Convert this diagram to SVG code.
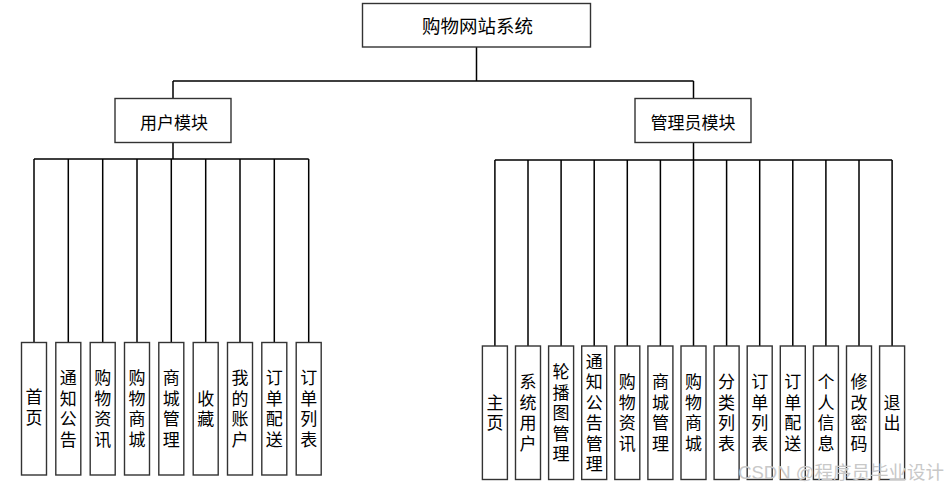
<svg xmlns="http://www.w3.org/2000/svg" width="946" height="486" viewBox="0 0 946 486">
<defs>
<style>
.box{fill:#fff;stroke:#333;stroke-width:1.4}
.ln{fill:none;stroke:#000;stroke-width:1.5}
text{font-family:"Noto Sans CJK SC","Noto Sans",sans-serif;fill:#000}
.t1{font-size:18.5px;text-anchor:middle;dominant-baseline:central}
.t2{font-size:17px;text-anchor:middle;dominant-baseline:central}
.lf{font-size:17px;text-anchor:middle;writing-mode:vertical-rl;letter-spacing:3.5px}
.wm{font-size:18.5px;fill:#c8c8c8;text-anchor:end;dominant-baseline:central;font-family:"Liberation Sans","Noto Sans CJK SC",sans-serif}
</style>
</defs>
<rect width="946" height="486" fill="#fff"/>
<g id="connectors">
<path class="ln" d="M476.5 47V81M173 81H693.5M173 81V98M693.5 81V98"/>
<path class="ln" d="M173 142.5V159M34 159H308.7M34 159V342.5M68.3 159V342.5M102.7 159V342.5M137 159V342.5M171.3 159V342.5M205.7 159V342.5M240 159V342.5M274.3 159V342.5M308.7 159V342.5"/>
<path class="ln" d="M693.5 142.5V160M494.9 160H892.1M494.9 160V346M528 160V346M561.1 160V346M594.2 160V346M627.3 160V346M660.4 160V346M693.5 160V346M726.6 160V346M759.7 160V346M792.8 160V346M825.9 160V346M859 160V346M892.1 160V346"/>
</g>
<g id="root"><rect class="box" x="362.5" y="3.5" width="228" height="43.5"/><text class="t1" x="477.5" y="25">购物网站系统</text></g>
<g id="user"><rect class="box" x="115" y="98.5" width="116" height="44"/><text class="t2" x="174" y="121.5">用户模块</text></g>
<g id="admin"><rect class="box" x="635" y="98.5" width="116" height="44"/><text class="t2" x="693" y="121.5">管理员模块</text></g>

<g id="u1"><rect class="box" x="21.5" y="342.5" width="25" height="132.5"/><text class="lf" x="34" y="409">首页</text></g>
<g id="u2"><rect class="box" x="55.8" y="342.5" width="25" height="132.5"/><text class="lf" x="68.3" y="410.5">通知公告</text></g>
<g id="u3"><rect class="box" x="90.2" y="342.5" width="25" height="132.5"/><text class="lf" x="102.7" y="410.5">购物资讯</text></g>
<g id="u4"><rect class="box" x="124.5" y="342.5" width="25" height="132.5"/><text class="lf" x="137" y="410.5">购物商城</text></g>
<g id="u5"><rect class="box" x="158.8" y="342.5" width="25" height="132.5"/><text class="lf" x="171.3" y="410.5">商城管理</text></g>
<g id="u6"><rect class="box" x="193.2" y="342.5" width="25" height="132.5"/><text class="lf" x="205.7" y="410.5">收藏</text></g>
<g id="u7"><rect class="box" x="227.5" y="342.5" width="25" height="132.5"/><text class="lf" x="240" y="410.5">我的账户</text></g>
<g id="u8"><rect class="box" x="261.8" y="342.5" width="25" height="132.5"/><text class="lf" x="274.3" y="410.5">订单配送</text></g>
<g id="u9"><rect class="box" x="296.2" y="342.5" width="25" height="132.5"/><text class="lf" x="308.7" y="410.5">订单列表</text></g>

<g id="a1"><rect class="box" x="482.4" y="346" width="25" height="133.5"/><text class="lf" x="494.9" y="414.5">主页</text></g>
<g id="a2"><rect class="box" x="515.5" y="346" width="25" height="133.5"/><text class="lf" x="528" y="414.5">系统用户</text></g>
<g id="a3"><rect class="box" x="548.6" y="346" width="25" height="133.5"/><text class="lf" x="561.1" y="414.5">轮播图管理</text></g>
<g id="a4"><rect class="box" x="581.7" y="346" width="25" height="133.5"/><text class="lf" x="594.2" y="414.5">通知公告管理</text></g>
<g id="a5"><rect class="box" x="614.8" y="346" width="25" height="133.5"/><text class="lf" x="627.3" y="414.5">购物资讯</text></g>
<g id="a6"><rect class="box" x="647.9" y="346" width="25" height="133.5"/><text class="lf" x="660.4" y="414.5">商城管理</text></g>
<g id="a7"><rect class="box" x="681" y="346" width="25" height="133.5"/><text class="lf" x="693.5" y="414.5">购物商城</text></g>
<g id="a8"><rect class="box" x="714.1" y="346" width="25" height="133.5"/><text class="lf" x="726.6" y="414.5">分类列表</text></g>
<g id="a9"><rect class="box" x="747.2" y="346" width="25" height="133.5"/><text class="lf" x="759.7" y="414.5">订单列表</text></g>
<g id="a10"><rect class="box" x="780.3" y="346" width="25" height="133.5"/><text class="lf" x="792.8" y="414.5">订单配送</text></g>
<g id="a11"><rect class="box" x="813.4" y="346" width="25" height="133.5"/><text class="lf" x="825.9" y="414.5">个人信息</text></g>
<g id="a12"><rect class="box" x="846.5" y="346" width="25" height="133.5"/><text class="lf" x="859" y="414.5">修改密码</text></g>
<g id="a13"><rect class="box" x="879.6" y="346" width="25" height="133.5"/><text class="lf" x="892.1" y="414.5">退出</text></g>

<text class="wm" x="944" y="472">CSDN @程序员毕业设计</text>
</svg>
